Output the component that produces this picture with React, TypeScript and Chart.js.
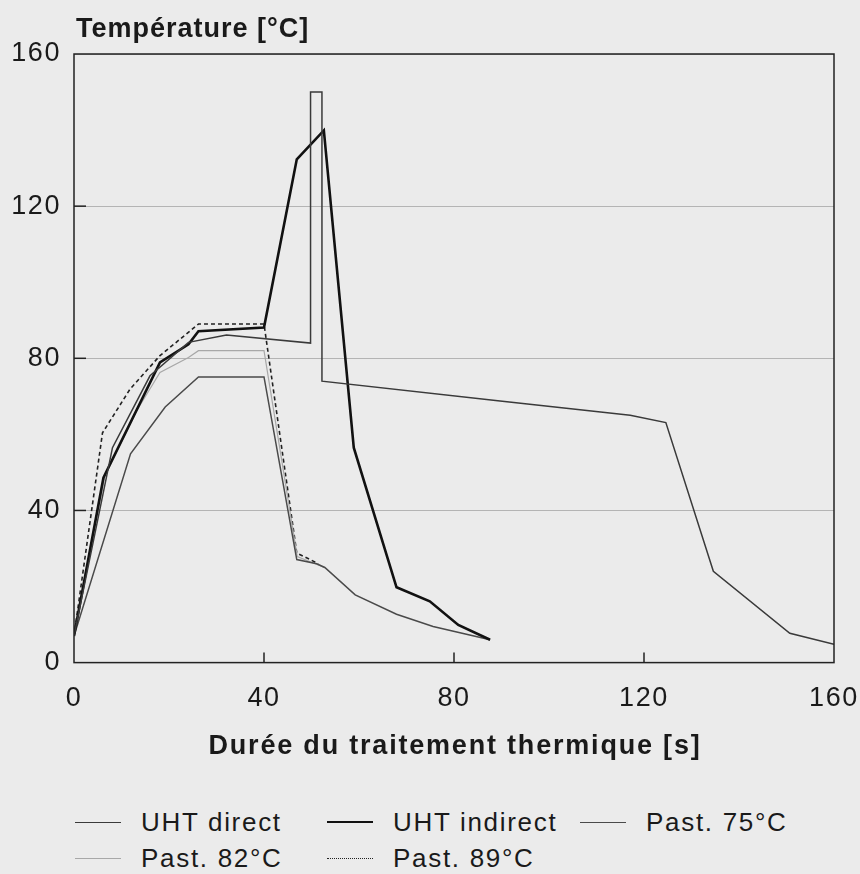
import React, { useEffect, useRef } from "react";
import { Chart, registerables } from "chart.js";

Chart.register(...registerables);

// ---- Data (time in s, temperature in °C) ----
const uhtDirectTime = [0, 8.1, 16, 24.1, 32.1, 49.8, 49.8, 52.2, 52.2, 89.7, 117.1, 124.6, 134.6, 150.7, 160];
const uhtDirectTemp = [7, 56.5, 75.4, 84.2, 86.1, 84, 150, 150, 74, 68.8, 65, 63.1, 24, 7.7, 4.8];

const uhtIndirectTime = [0, 6.2, 18.1, 24.1, 26.2, 40, 46.9, 52.6, 58.9, 67.9, 74.9, 80.9, 87.6];
const uhtIndirectTemp = [7, 48.6, 78.9, 83.7, 87.1, 88.1, 132.3, 139.9, 56.5, 19.8, 16.1, 9.9, 6];

const past75Time = [0, 11.9, 19.2, 26.2, 40, 46.9, 51.1, 52.8, 59.2, 67.9, 75.6, 87.6];
const past75Temp = [7, 54.9, 67.2, 75.1, 75.1, 27.1, 26, 25, 17.8, 12.7, 9.5, 6];

const past82Time = [0, 6.5, 13.2, 18.1, 24.1, 26.2, 40, 47, 52.7];
const past82Temp = [7, 49, 66.2, 76.3, 80.2, 82, 82, 27.9, 25];

const past89Time = [0, 6, 11.8, 18.1, 26.2, 40, 46.9, 49.7, 51.4];
const past89Temp = [7, 60.4, 71.9, 80.7, 89, 89, 28.8, 27.1, 26];

const seriesNames = ["UHT direct", "UHT indirect", "Past. 75°C", "Past. 82°C", "Past. 89°C"];
const xTicks = [0, 40, 80, 120, 160];
const yTicks = [0, 40, 80, 120, 160];
const yTitle = "Température [°C]";
const xTitle = "Durée du traitement thermique [s]";

const FONT = "'Liberation Sans', Arial, Helvetica, sans-serif";
const INK = "#1a1a1a";

const styles = [
  { color: "#3a3a3a", width: 1.5, dash: [] as number[] },
  { color: "#111111", width: 2.6, dash: [] as number[] },
  { color: "#4a4a4a", width: 1.5, dash: [] as number[] },
  { color: "#a8a8a8", width: 1.2, dash: [] as number[] },
  { color: "#222222", width: 1.6, dash: [4, 3] },
];

const pairs = (xs: number[], ys: number[]) => xs.map((x, i) => ({ x, y: ys[i] }));

const framePlugin = {
  id: "frame",
  beforeDraw(chart: any) {
    chart.ctx.letterSpacing = "1.6px";
  },
  afterDraw(chart: any) {
    const { ctx, chartArea } = chart;
    const { left, right, top, bottom } = chartArea;
    const xs = chart.scales.x;
    const ys = chart.scales.y;
    ctx.save();
    ctx.strokeStyle = "#222";
    ctx.lineWidth = 1.5;
    ctx.strokeRect(left, top, right - left, bottom - top);
    xTicks.slice(1, -1).forEach((v) => {
      const px = xs.getPixelForValue(v);
      ctx.beginPath();
      ctx.moveTo(px, bottom);
      ctx.lineTo(px, bottom - 10);
      ctx.stroke();
    });
    yTicks.slice(1, -1).forEach((v) => {
      const py = ys.getPixelForValue(v);
      ctx.beginPath();
      ctx.moveTo(left, py);
      ctx.lineTo(left + 12, py);
      ctx.stroke();
    });
    ctx.fillStyle = INK;
    ctx.font = `bold 27px ${FONT}`;
    ctx.letterSpacing = "1px";
    ctx.textAlign = "left";
    ctx.textBaseline = "alphabetic";
    ctx.fillText(yTitle, left + 2, top - 17);
    ctx.letterSpacing = "1.8px";
    ctx.textAlign = "center";
    ctx.textBaseline = "middle";
    ctx.fillText(xTitle, (left + right) / 2 + 1, 747);
    ctx.restore();
  },
};

function ChartCanvas() {
  const ref = useRef<HTMLCanvasElement | null>(null);
  useEffect(() => {
    if (!ref.current) return;
    const datasets = [
      pairs(uhtDirectTime, uhtDirectTemp),
      pairs(uhtIndirectTime, uhtIndirectTemp),
      pairs(past75Time, past75Temp),
      pairs(past82Time, past82Temp),
      pairs(past89Time, past89Temp),
    ].map((data, i) => ({
      label: seriesNames[i],
      data,
      borderColor: styles[i].color,
      borderWidth: styles[i].width,
      borderDash: styles[i].dash,
      pointRadius: 0,
      tension: 0,
      fill: false,
    }));
    const chart = new Chart(ref.current, {
      type: "line",
      data: { datasets },
      plugins: [framePlugin],
      options: {
        animation: false,
        responsive: false,
        maintainAspectRatio: false,
        layout: { padding: { top: 54, right: 0, bottom: 55, left: 0 } },
        plugins: { legend: { display: false }, tooltip: { enabled: false } },
        scales: {
          x: {
            type: "linear",
            min: 0,
            max: 160,
            afterBuildTicks: (s: any) => {
              s.ticks = xTicks.map((v) => ({ value: v }));
            },
            afterFit: (s: any) => {
              s.paddingRight = 26;
              s.paddingLeft = 0;
            },
            grid: { display: false, drawTicks: false },
            border: { display: false },
            ticks: { color: INK, font: { family: FONT, size: 27 }, padding: 20, maxRotation: 0 },
          },
          y: {
            min: 0,
            max: 160,
            afterBuildTicks: (s: any) => {
              s.ticks = yTicks.map((v) => ({ value: v }));
            },
            afterFit: (s: any) => {
              s.width = 74;
            },
            grid: { color: "#b4b4b4", lineWidth: 1, drawTicks: false },
            border: { display: false },
            ticks: { color: INK, font: { family: FONT, size: 27 }, padding: 13 },
          },
        },
      },
    });
    return () => chart.destroy();
  }, []);
  return (
    <canvas
      ref={ref}
      width={860}
      height={790}
      style={{ position: "absolute", left: 0, top: 0, width: 860, height: 790 }}
    />
  );
}

function LegendSample({ i }: { i: number }) {
  const s = styles[i];
  const dotted = s.dash.length > 0;
  return (
    <span
      style={{
        display: "inline-block",
        width: 46,
        height: 0,
        borderTop: `${dotted ? 1.5 : s.width}px ${dotted ? "dotted" : "solid"} ${s.color}`,
        marginRight: 20,
        verticalAlign: "middle",
      }}
    />
  );
}

export default function App() {
  const cols = [75, 327, 580];
  const layout = [
    { i: 0, row: 0, col: 0 },
    { i: 1, row: 0, col: 1 },
    { i: 2, row: 0, col: 2 },
    { i: 3, row: 1, col: 0 },
    { i: 4, row: 1, col: 1 },
  ];
  return (
    <div
      style={{
        position: "absolute",
        left: 0,
        top: 0,
        width: 860,
        height: 874,
        background: "#ebebeb",
        overflow: "hidden",
      }}
    >
      <ChartCanvas />
      {layout.map(({ i, row, col }) => (
        <div
          key={i}
          style={{
            position: "absolute",
            left: cols[col],
            top: 822 + row * 36 - 16,
            height: 32,
            display: "flex",
            alignItems: "center",
            fontFamily: FONT,
            fontSize: 26,
            letterSpacing: "1.7px",
            color: INK,
            whiteSpace: "nowrap",
          }}
        >
          <LegendSample i={i} />
          <span>{seriesNames[i]}</span>
        </div>
      ))}
    </div>
  );
}
